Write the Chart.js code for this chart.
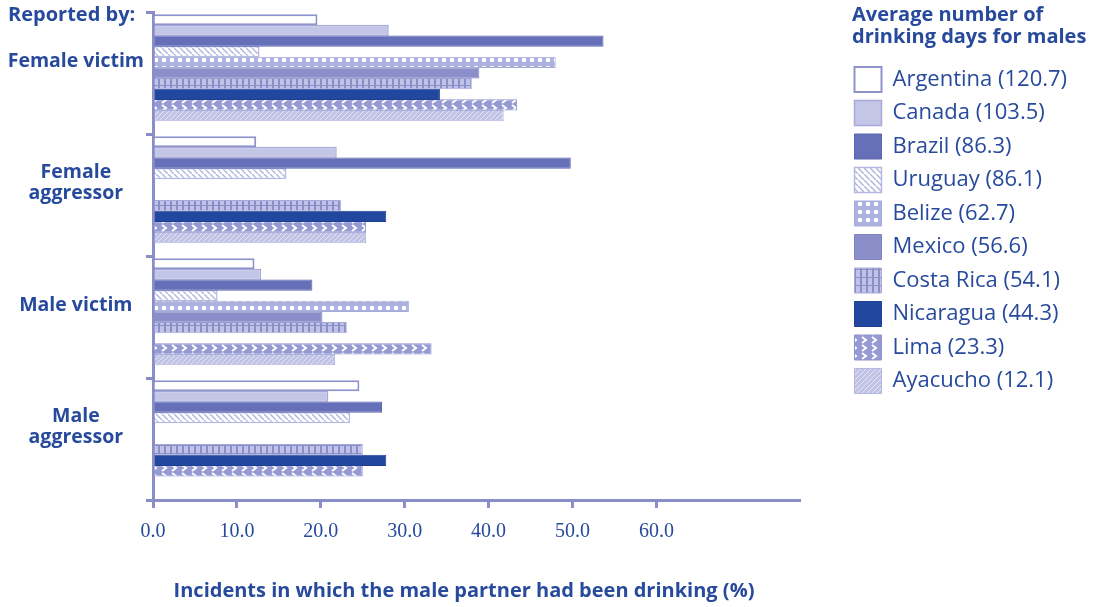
<!DOCTYPE html>
<html>
<head>
<meta charset="utf-8">
<script src="https://cdn.jsdelivr.net/npm/chart.js@4/dist/chart.umd.min.js"></script>
<style>
  html, body { margin: 0; padding: 0; background: #ffffff; }
  #wrap { position: relative; width: 1101px; height: 607px; }
</style>
</head>
<body>
<div id="wrap"><canvas id="c" width="1101" height="607"></canvas></div>
<script>
// ---- data ----
const categories = ['Female victim', ['Female', 'aggressor'], 'Male victim', ['Male', 'aggressor']];
const countries = ['Argentina (120.7)', 'Canada (103.5)', 'Brazil (86.3)', 'Uruguay (86.1)', 'Belize (62.7)',
                   'Mexico (56.6)', 'Costa Rica (54.1)', 'Nicaragua (44.3)', 'Lima (23.3)', 'Ayacucho (12.1)'];
const argentina = [19.6, 12.3, 12.1, 24.6];
const canada    = [28.1, 21.9, 12.9, 20.9];
const brazil    = [53.7, 49.8, 19.0, 27.3];
const uruguay   = [12.7, 15.9, 7.7, 23.5];
const belize    = [48.0, null, 30.5, null];
const mexico    = [38.9, null, 20.2, null];
const costaRica = [38.0, 22.4, 23.1, 25.0];
const nicaragua = [34.2, 27.8, null, 27.8];
const lima      = [43.4, 25.4, 33.2, 25.0];
const ayacucho  = [41.8, 25.4, 21.7, null];
const xTickValues = [0, 10, 20, 30, 40, 50, 60];
const legendTitle = ['Average number of', 'drinking days for males'];
const cornerLabel = 'Reported by:';
const xTitle = 'Incidents in which the male partner had been drinking (%)';

const TEXT = '#274a9c';
const AXIS = '#8a8ec8';

function pat(w, h, draw) {
  const c = document.createElement('canvas'); c.width = w; c.height = h;
  const g = c.getContext('2d'); draw(g, w, h);
  return g.createPattern(c, 'repeat');
}
const uruguayPat = pat(6, 6, (g, w, h) => {
  g.fillStyle = '#ffffff'; g.fillRect(0, 0, w, h);
  g.strokeStyle = '#b3b6df'; g.lineWidth = 1.5;
  g.beginPath(); g.moveTo(0, 0); g.lineTo(w, h); g.stroke();
});
const belizePat = pat(8, 8, (g, w, h) => {
  g.fillStyle = '#adb1dd'; g.fillRect(0, 0, w, h);
  g.fillStyle = '#ffffff'; g.beginPath(); g.arc(4, 4, 2.3, 0, Math.PI * 2); g.fill();
});
const costaPat = pat(6, 8, (g, w, h) => {
  g.fillStyle = '#c0c3e5'; g.fillRect(0, 0, w, h);
  g.fillStyle = '#8a8fc9'; g.fillRect(2, 0, 2, h); g.fillRect(0, 5, w, 1);
});
const limaPat = pat(10, 8, (g, w, h) => {
  g.fillStyle = '#969ad3'; g.fillRect(0, 0, w, h);
  g.strokeStyle = '#ffffff'; g.lineWidth = 2;
  g.beginPath(); g.moveTo(2, 1); g.lineTo(6, 4); g.lineTo(2, 7); g.stroke();
});
const ayaPat = pat(5, 5, (g, w, h) => {
  g.fillStyle = '#c0c3e6'; g.fillRect(0, 0, w, h);
  g.strokeStyle = '#e4e5f4'; g.lineWidth = 1;
  g.beginPath(); g.moveTo(0, h); g.lineTo(w, 0); g.stroke();
});

const seriesData = [argentina, canada, brazil, uruguay, belize, mexico, costaRica, nicaragua, lima, ayacucho];
const fills   = ['#ffffff', '#c3c6e6', '#6670b8', uruguayPat, belizePat, '#8a8fca', costaPat, '#22479e', limaPat, ayaPat];
const borders = ['#8f93cc', '#a6aad9', '#5a64b2', '#b5b8e0', '#a6aad9', '#7d83c4', '#a6aad9', '#1f3f94', '#8f93cc', '#b5b8e0'];
const bw      = [2, 1.5, 1, 1.5, 1, 1, 1, 1, 1, 1];

const datasets = seriesData.map((d, i) => ({
  label: countries[i],
  data: d,
  backgroundColor: fills[i],
  borderColor: borders[i],
  borderWidth: bw[i],
  borderSkipped: 'start'
}));
// empty spacer slot so the bars sit at the top of each group as in the original
datasets.push({ label: '', data: [null, null, null, null], backgroundColor: 'rgba(0,0,0,0)', borderWidth: 0 });

const LEGEND_SPACE = 302;
const LEGEND_LEFT = 846;

const extras = {
  id: 'extras',
  beforeUpdate(chart) {
    const lg = chart.legend;
    if (lg && !lg._wrappedFit) {
      const orig = lg.fit.bind(lg);
      lg.fit = function () { orig(); this.width = LEGEND_SPACE; };
      lg._wrappedFit = true;
    }
  },
  afterLayout(chart) {
    const lg = chart.legend;
    if (lg) { lg.left = LEGEND_LEFT; lg.width = lg.right - lg.left; }
  },
  afterDraw(chart) {
    const ctx = chart.ctx;
    ctx.save();
    ctx.fillStyle = TEXT;
    ctx.font = 'bold 20px "Open Sans"';
    ctx.textAlign = 'left';
    ctx.textBaseline = 'middle';
    ctx.fillText(cornerLabel, 8, 15);
    ctx.fillText(legendTitle[0], 852, 15);
    ctx.fillText(legendTitle[1], 852, 37);
    ctx.textAlign = 'center';
    ctx.fillText(xTitle, 464, 591);
    ctx.restore();
  }
};

new Chart(document.getElementById('c'), {
  type: 'bar',
  data: { labels: categories, datasets },
  plugins: [extras],
  options: {
    indexAxis: 'y',
    responsive: false,
    animation: false,
    maintainAspectRatio: false,
    categoryPercentage: 0.96,
    barPercentage: 1.05,
    layout: { padding: { top: 12, bottom: 2.4, left: 0, right: 0 } },
    plugins: {
      tooltip: { enabled: false },
      legend: {
        position: 'right',
        align: 'start',
        labels: {
          boxWidth: 27, boxHeight: 25, padding: 8.5,
          color: TEXT,
          font: { family: '"Open Sans"', size: 22 },
          filter: (item) => item.text !== ''
        },
        title: {
          display: true,
          position: 'start',
          text: '',
          font: { family: '"Open Sans"', size: 20, weight: 'bold', lineHeight: 1.2 },
          padding: { top: 0, bottom: 22.5 }
        }
      }
    },
    scales: {
      x: {
        type: 'linear',
        min: 0, max: 77,
        afterBuildTicks: (scale) => { scale.ticks = xTickValues.map(v => ({ value: v })); },
        ticks: {
          color: TEXT,
          padding: 12,
          font: { family: '"Liberation Serif"', size: 20 },
          callback: (v) => Number(v).toFixed(1)
        },
        grid: { drawOnChartArea: false, drawTicks: true, tickLength: 8, color: AXIS, lineWidth: 3 },
        border: { display: true, color: AXIS, width: 3 },
        title: {
          // space reserved for the axis title, which is drawn centred where the original places it
          display: true,
          text: ' ',
          font: { family: '"Open Sans"', size: 20, weight: 'bold' },
          padding: { top: 24.6, bottom: 0 }
        }
      },
      y: {
        type: 'category',
        afterFit: (scale) => { scale.width = 153; scale.paddingTop = 0; scale.paddingBottom = 0; },
        ticks: {
          color: TEXT,
          crossAlign: 'center',
          padding: 2,
          labelOffset: -12,
          font: { family: '"Open Sans"', size: 19.5, weight: 'bold', lineHeight: 1.1 }
        },
        grid: { offset: true, drawOnChartArea: false, drawTicks: true, tickLength: 7, color: AXIS, lineWidth: 3 },
        border: { display: true, color: AXIS, width: 3 }
      }
    }
  }
});
</script>
</body>
</html>
